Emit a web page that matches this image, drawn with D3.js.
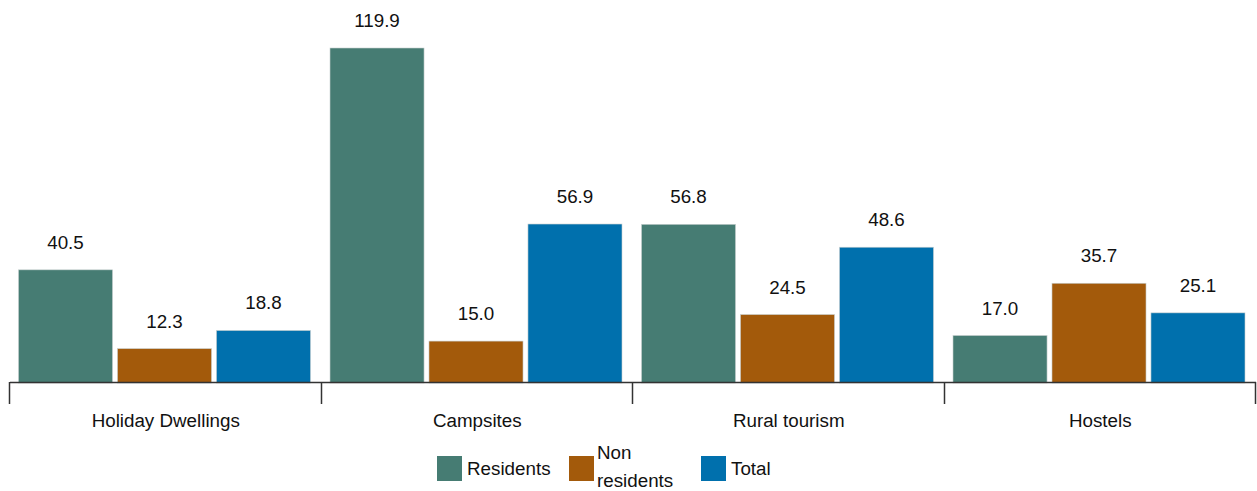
<!DOCTYPE html>
<html>
<head>
<meta charset="utf-8">
<script src="https://cdn.jsdelivr.net/npm/d3@7"></script>
<style>
  body { margin: 0; background: #fff; }
  svg { display: block; font-family: "Liberation Sans", Arial, sans-serif; }
</style>
</head>
<body>
<svg id="chart" width="1257" height="491"></svg>
<script>
const categories = ["Holiday Dwellings", "Campsites", "Rural tourism", "Hostels"];
const seriesNames = ["Residents", "Non residents", "Total"];
const residents = [40.5, 119.9, 56.8, 17.0];
const nonResidents = [12.3, 15.0, 24.5, 35.7];
const total = [18.8, 56.9, 48.6, 25.1];
const colors = ["#467c73", "#a35a0b", "#0070ad"];

const seriesValues = [residents, nonResidents, total];
const data = categories.map((c, i) => ({
  cat: c,
  vals: seriesNames.map((s, j) => ({ s, v: seriesValues[j][i] }))
}));

const FS = 18.8;
const svg = d3.select("#chart");
const x0 = d3.scaleBand().domain(categories).range([10, 1256]).padding(0);
const x1 = d3.scaleBand().domain(seriesNames).range([8.5, 300.5]).paddingInner(0.05);
const y = d3.scaleLinear().domain([0, 119.9]).range([383, 48]);
const color = d3.scaleOrdinal().domain(seriesNames).range(colors);

const g = svg.append("g");
const groups = g.selectAll("g.grp").data(data).join("g")
  .attr("transform", d => `translate(${x0(d.cat)},0)`);

groups.selectAll("rect").data(d => d.vals).join("rect")
  .attr("x", d => x1(d.s))
  .attr("width", x1.bandwidth())
  .attr("y", d => y(d.v))
  .attr("height", d => y(0) - y(d.v))
  .attr("fill", d => color(d.s))
  .attr("stroke", "#c8d0d0")
  .attr("stroke-width", 0.6);

groups.selectAll("text.val").data(d => d.vals).join("text")
  .attr("class", "val")
  .attr("x", d => x1(d.s) + x1.bandwidth() / 2)
  .attr("y", d => y(d.v) - 21)
  .attr("text-anchor", "middle")
  .attr("font-size", FS)
  .attr("fill", "#111")
  .text(d => d.v.toFixed(1));

// axis
const axisG = svg.append("g");
axisG.append("line")
  .attr("x1", 10).attr("x2", 1256)
  .attr("y1", 382.5).attr("y2", 382.5)
  .attr("stroke", "#333").attr("stroke-width", 1.5);
const bounds = categories.map(c => x0(c)).concat([x0.range()[1]]);
axisG.selectAll("line.tick").data(bounds).join("line")
  .attr("class", "tick")
  .attr("x1", d => Math.round(d) - 0.5).attr("x2", d => Math.round(d) - 0.5)
  .attr("y1", 382).attr("y2", 404)
  .attr("stroke", "#333").attr("stroke-width", 1.5);
axisG.selectAll("text.cat").data(categories).join("text")
  .attr("class", "cat")
  .attr("x", d => x0(d) + x0.bandwidth() / 2)
  .attr("y", 427)
  .attr("text-anchor", "middle")
  .attr("font-size", FS)
  .attr("fill", "#111")
  .text(d => d);

// legend
const legendPos = [437, 569, 701];
const leg = svg.append("g");
seriesNames.forEach((s, i) => {
  const lx = legendPos[i];
  leg.append("rect")
    .attr("x", lx).attr("y", 456).attr("width", 25).attr("height", 25)
    .attr("fill", color(s));
  const t = leg.append("text")
    .attr("x", lx + 30)
    .attr("font-size", FS)
    .attr("fill", "#111");
  if (s === "Non residents") {
    t.append("tspan").attr("x", lx + 28).attr("y", 459).text("Non");
    t.append("tspan").attr("x", lx + 28).attr("y", 487).text("residents");
  } else {
    t.attr("y", 475).text(s);
  }
});
</script>
</body>
</html>
